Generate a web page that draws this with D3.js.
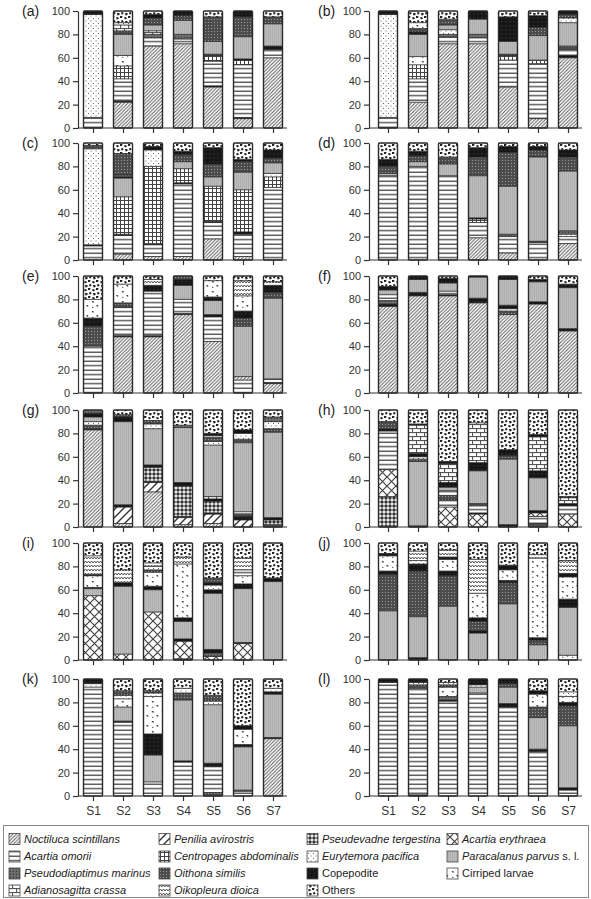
<!DOCTYPE html>
<html>
<head>
<meta charset="utf-8">
<script src="https://cdn.jsdelivr.net/npm/d3@7"></script>
<style>
  body { margin: 0; background: #fff; }
  svg { display: block; font-family: "Liberation Sans", Arial, sans-serif; }
</style>
</head>
<body>
<svg id="chart" width="591" height="899"></svg>
<script>
const stations = ['S1', 'S2', 'S3', 'S4', 'S5', 'S6', 'S7'];
const yTicks = [0, 20, 40, 60, 80, 100];
const panelLabels = ['(a)', '(b)', '(c)', '(d)', '(e)', '(f)', '(g)', '(h)', '(i)', '(j)', '(k)', '(l)'];

// species index: 0 Noctiluca, 1 A. omorii, 2 Pseudodiaptimus, 3 Adianosagitta, 4 Penilia,
// 5 Centropages, 6 Oithona, 7 Oikopleura, 8 Pseudevadne, 9 Eurytemora, 10 Copepodite,
// 11 Others, 12 A. erythraea, 13 Paracalanus, 14 Cirriped larvae
const species = [
  'Noctiluca scintillans', 'Acartia omorii', 'Pseudodiaptimus marinus', 'Adianosagitta crassa',
  'Penilia avirostris', 'Centropages abdominalis', 'Oithona similis', 'Oikopleura dioica',
  'Pseudevadne tergestina', 'Eurytemora pacifica', 'Copepodite', 'Others',
  'Acartia erythraea', 'Paracalanus parvus', 'Cirriped larvae'
];
const italicNames = [true, true, true, true, true, true, true, true, true, true, false, false, true, true, false];
// legend order (column by column)
const legendOrder = [
  [0, 1, 2, 3],
  [4, 5, 6, 7],
  [8, 9, 10, 11],
  [12, 13, 14]
];

// each station: [species, percent] from bottom to top
const panelA = [
  [[1, 9], [9, 88], [10, 3]],
  [[0, 22], [10, 1], [1, 19], [5, 11], [14, 9], [13, 18], [6, 3], [3, 5], [9, 2], [11, 10]],
  [[0, 70], [1, 7], [2, 3], [3, 3], [13, 5], [6, 6], [10, 3], [11, 3]],
  [[0, 72], [1, 4], [2, 4], [13, 12], [6, 4], [10, 4]],
  [[0, 35], [10, 1], [1, 21], [5, 5], [10, 1], [13, 11], [6, 21], [11, 5]],
  [[0, 8], [10, 1], [1, 45], [5, 4], [10, 1], [13, 19], [6, 17], [10, 5]],
  [[0, 60], [1, 7], [10, 3], [13, 19], [6, 6], [11, 5]]
];
const panelB = [
  [[1, 9], [9, 88], [10, 3]],
  [[0, 22], [1, 20], [5, 12], [14, 7], [13, 19], [10, 2], [6, 3], [14, 5], [11, 10]],
  [[0, 72], [1, 6], [2, 2], [9, 4], [13, 4], [6, 5], [11, 7]],
  [[0, 72], [1, 5], [2, 3], [13, 13], [10, 7]],
  [[0, 35], [1, 23], [5, 4], [10, 1], [13, 11], [10, 21], [11, 5]],
  [[0, 8], [1, 47], [5, 3], [13, 21], [6, 7], [10, 10], [11, 4]],
  [[0, 60], [10, 2], [1, 5], [6, 3], [13, 20], [9, 4], [6, 3], [10, 3]]
];
const panelC = [
  [[1, 12], [10, 1], [9, 82], [6, 3], [11, 2]],
  [[0, 5], [1, 16], [10, 1], [5, 32], [13, 16], [10, 1], [2, 2], [6, 18], [11, 9]],
  [[0, 3], [1, 10], [10, 1], [5, 66], [9, 14], [10, 3], [11, 3]],
  [[0, 3], [1, 62], [10, 1], [5, 12], [13, 6], [6, 6], [10, 3], [11, 7]],
  [[0, 18], [1, 14], [10, 1], [5, 30], [13, 8], [6, 11], [10, 14], [11, 4]],
  [[0, 3], [1, 19], [10, 2], [5, 36], [13, 15], [6, 9], [10, 2], [11, 14]],
  [[1, 62], [5, 9], [9, 3], [13, 9], [6, 4], [10, 7], [11, 6]]
];
const panelD = [
  [[1, 72], [13, 2], [6, 6], [10, 6], [11, 14]],
  [[1, 80], [13, 4], [6, 5], [10, 4], [11, 7]],
  [[1, 72], [13, 10], [6, 6], [11, 12]],
  [[0, 19], [1, 13], [5, 3], [10, 1], [13, 36], [6, 16], [10, 8], [11, 4]],
  [[0, 6], [1, 14], [2, 2], [13, 41], [6, 29], [10, 5], [11, 3]],
  [[1, 15], [10, 1], [13, 72], [6, 6], [10, 3], [11, 3]],
  [[0, 14], [1, 6], [9, 2], [2, 3], [13, 51], [6, 12], [10, 6], [11, 6]]
];
const panelE = [
  [[1, 40], [6, 17], [10, 7], [14, 16], [11, 20]],
  [[0, 48], [10, 1], [1, 24], [6, 4], [14, 16], [11, 7]],
  [[0, 48], [10, 1], [1, 38], [10, 5], [7, 5], [11, 3]],
  [[0, 67], [10, 1], [1, 12], [13, 12], [10, 5], [6, 3]],
  [[0, 44], [1, 21], [10, 2], [13, 12], [10, 3], [14, 14], [11, 4]],
  [[1, 11], [0, 3], [13, 43], [6, 7], [10, 6], [14, 13], [7, 13], [11, 4]],
  [[0, 8], [10, 1], [1, 3], [13, 69], [6, 5], [10, 6], [7, 3], [11, 5]]
];
const panelF = [
  [[0, 74], [10, 2], [2, 3], [1, 5], [13, 4], [10, 3], [11, 9]],
  [[0, 83], [10, 3], [13, 11], [10, 3]],
  [[0, 83], [10, 1], [1, 3], [13, 7], [10, 4], [11, 2]],
  [[0, 77], [10, 4], [13, 18], [10, 1]],
  [[0, 67], [6, 3], [9, 2], [10, 3], [13, 22], [10, 3]],
  [[0, 76], [10, 2], [13, 17], [10, 2], [11, 3]],
  [[0, 53], [10, 2], [13, 35], [10, 3], [11, 7]]
];
const panelG = [
  [[0, 83], [10, 1], [6, 3], [9, 3], [13, 4], [10, 3], [2, 3]],
  [[0, 3], [4, 14], [10, 2], [13, 71], [10, 4], [6, 2], [11, 4]],
  [[0, 30], [4, 8], [10, 1], [8, 12], [10, 2], [13, 31], [9, 4], [6, 3], [11, 9]],
  [[0, 2], [4, 6], [10, 1], [8, 26], [10, 3], [13, 47], [2, 2], [11, 13]],
  [[0, 3], [4, 8], [10, 1], [8, 10], [10, 2], [3, 2], [13, 44], [9, 3], [6, 3], [1, 2], [10, 2], [11, 20]],
  [[4, 6], [10, 3], [6, 2], [1, 2], [13, 59], [6, 3], [9, 5], [10, 3], [11, 17]],
  [[6, 2], [8, 4], [10, 2], [13, 73], [6, 3], [9, 6], [2, 4], [11, 6]]
];
const panelH = [
  [[8, 26], [12, 23], [1, 33], [10, 2], [6, 6], [11, 10]],
  [[10, 1], [13, 55], [2, 2], [9, 2], [10, 3], [3, 24], [10, 1], [11, 12]],
  [[12, 17], [1, 6], [6, 4], [1, 4], [13, 3], [10, 4], [3, 16], [10, 2], [11, 44]],
  [[12, 11], [10, 1], [1, 6], [6, 2], [13, 28], [10, 7], [3, 34], [11, 11]],
  [[10, 2], [13, 56], [6, 3], [10, 5], [11, 34]],
  [[6, 3], [1, 6], [12, 3], [10, 2], [13, 28], [10, 6], [3, 29], [10, 2], [11, 21]],
  [[12, 11], [1, 7], [10, 2], [3, 5], [10, 1], [11, 74]]
];
const panelI = [
  [[12, 55], [13, 6], [10, 1], [14, 10], [10, 1], [7, 16], [11, 11]],
  [[12, 5], [13, 58], [10, 3], [7, 11], [11, 23]],
  [[12, 41], [13, 19], [10, 3], [14, 12], [6, 2], [9, 3], [7, 3], [11, 17]],
  [[10, 1], [12, 15], [10, 2], [13, 15], [10, 3], [14, 46], [7, 6], [11, 12]],
  [[12, 3], [2, 3], [10, 3], [13, 48], [10, 3], [9, 4], [10, 2], [6, 4], [11, 30]],
  [[12, 14], [10, 1], [13, 46], [10, 4], [14, 7], [1, 5], [7, 10], [11, 13]],
  [[13, 67], [10, 3], [11, 30]]
];
const panelJ = [
  [[13, 42], [6, 31], [10, 3], [14, 13], [10, 2], [11, 9]],
  [[10, 2], [13, 35], [6, 39], [10, 6], [9, 3], [7, 8], [11, 7]],
  [[13, 46], [6, 26], [10, 4], [14, 10], [10, 2], [7, 6], [11, 6]],
  [[13, 23], [10, 2], [6, 8], [10, 3], [14, 21], [7, 29], [11, 14]],
  [[13, 48], [6, 18], [10, 2], [14, 9], [10, 4], [11, 19]],
  [[13, 13], [6, 4], [10, 2], [14, 68], [7, 3], [11, 10]],
  [[14, 4], [13, 41], [10, 7], [14, 19], [10, 3], [7, 11], [11, 15]]
];
const panelK = [
  [[1, 93], [9, 3], [10, 4]],
  [[1, 63], [10, 1], [13, 12], [14, 7], [9, 3], [6, 4], [11, 10]],
  [[1, 12], [13, 23], [10, 18], [14, 32], [9, 3], [6, 2], [11, 10]],
  [[1, 29], [10, 1], [13, 52], [6, 6], [9, 4], [11, 8]],
  [[6, 3], [1, 22], [10, 3], [13, 50], [9, 3], [6, 5], [11, 14]],
  [[1, 4], [2, 1], [13, 37], [10, 2], [14, 13], [10, 3], [11, 40]],
  [[0, 49], [10, 1], [13, 37], [10, 2], [9, 3], [11, 8]]
];
const panelL = [
  [[1, 97], [10, 3]],
  [[10, 1], [1, 91], [6, 3], [9, 2], [10, 3]],
  [[1, 81], [10, 1], [2, 3], [14, 8], [6, 2], [9, 2], [11, 3]],
  [[1, 88], [13, 5], [9, 2], [10, 5]],
  [[1, 76], [10, 3], [13, 14], [6, 3], [10, 4]],
  [[1, 38], [10, 2], [13, 27], [6, 9], [14, 11], [10, 3], [11, 10]],
  [[1, 5], [10, 2], [13, 53], [6, 17], [10, 3], [14, 5], [9, 4], [11, 11]]
];
const panels = [panelA, panelB, panelC, panelD, panelE, panelF, panelG, panelH, panelI, panelJ, panelK, panelL];

const svg = d3.select('#chart');
const defs = svg.append('defs');

// fill patterns, one per species
const pat = (i, w, h, bg, draw) => {
  const p = defs.append('pattern')
    .attr('id', 'p' + i)
    .attr('patternUnits', 'userSpaceOnUse')
    .attr('width', w)
    .attr('height', h);
  p.append('rect').attr('width', w).attr('height', h).attr('fill', bg);
  draw(p);
};
const line = (p, d, c, sw) => p.append('path').attr('d', d).attr('stroke', c).attr('stroke-width', sw).attr('fill', 'none');
const blob = (p, d, c) => p.append('path').attr('d', d).attr('fill', c);

pat(0, 3.5, 3.5, '#fff', p => line(p, 'M0,3.5L3.5,0M-1,1L1,-1M2.5,4.5L4.5,2.5', '#555', 0.9));
pat(1, 4, 4.5, '#fff', p => line(p, 'M0,1.2H4', '#444', 1.3));
pat(2, 3, 3, '#6e6e6e', p => blob(p, 'M0.8,0.8h1.2v1.2h-1.2z', '#3a3a3a'));
pat(3, 8, 8, '#fff', p => line(p, 'M0,0.6H8M0,4.6H8M0.6,0.6V4.6M4.6,4.6V8.6', '#444', 1));
pat(4, 8, 8, '#fff', p => line(p, 'M0,8L8,0M-2,2L2,-2M6,10L10,6', '#333', 1.4));
pat(5, 4, 4, '#fff', p => line(p, 'M0,0.5H4M0.5,0V4', '#444', 1));
pat(6, 3, 3, '#4c4c4c', p => blob(p, 'M1,1h1v1h-1z', '#9a9a9a'));
pat(7, 6, 4, '#fff', p => line(p, 'M0,3L1.5,1L3,3L4.5,1L6,3', '#444', 0.9));
pat(8, 4, 4, '#e8e8e8', p => blob(p, 'M2,0L4,2L2,4L0,2Z', '#333'));
pat(9, 5, 5, '#fff', p => { blob(p, 'M0.6,0.6h0.9v0.9h-0.9z', '#555'); blob(p, 'M3.1,3.1h0.9v0.9h-0.9z', '#555'); });
pat(10, 4, 4, '#161616', p => blob(p, 'M1.5,1.5h0.8v0.8h-0.8z', '#6a6a6a'));
pat(11, 8, 8, '#fff', p => {
  blob(p, 'M0,0h2.5l-0.5,2h-2z', '#222');
  blob(p, 'M4,1.5l2,-0.5l1,1.5l-2,1z', '#222');
  blob(p, 'M1,4.5l2,-0.5l0.5,2l-2,0.5z', '#222');
  blob(p, 'M5,5h2.5v2l-2,0.5z', '#222');
});
pat(12, 9, 9, '#fff', p => line(p, 'M0,0L9,9M9,0L0,9', '#444', 1.2));
pat(13, 2, 2, '#bdbdbd', p => line(p, 'M0.5,0V2', '#a4a4a4', 0.6));
pat(14, 10, 10, '#fff', p => {
  blob(p, 'M1.5,1.5q1.5,-1 2.5,0.5q-1,1.5 -2.5,-0.5z', '#333');
  blob(p, 'M6,5.5q1.5,-1 2.5,0.5q-1,1.5 -2.5,-0.5z', '#333');
  blob(p, 'M2,7q1,-0.5 1.5,0.8q-1,0.8 -1.5,-0.8z', '#333');
});

// panel geometry
const rowTops = [11, 143, 276, 410, 543, 679];
const plotH = 117;
const cols = [
  { axisX: 78, first: 93, end: 287, labelX: 22 },
  { axisX: 369, first: 388, end: 582, labelX: 318 }
];
const barW = 19;

panels.forEach((bars, pi) => {
  const col = cols[pi % 2];
  const top = rowTops[Math.floor(pi / 2)];
  const g = svg.append('g');

  const y = d3.scaleLinear().domain([0, 100]).range([top + plotH, top]);
  const x = d3.scalePoint().domain(stations).range([col.first, col.first + 180]);

  // bars
  bars.forEach((segs, si) => {
    const cx = x(stations[si]);
    let cum = 0;
    const stack = segs.map(([sp, v]) => {
      const s = { sp, y0: cum, y1: cum + v };
      cum += v;
      return s;
    });
    const bar = g.append('g');
    bar.selectAll('rect.seg')
      .data(stack)
      .join('rect')
      .attr('class', 'seg')
      .attr('x', cx - barW / 2)
      .attr('width', barW)
      .attr('y', d => y(d.y1))
      .attr('height', d => y(d.y0) - y(d.y1))
      .attr('fill', d => `url(#p${d.sp})`);
    bar.selectAll('line.sep')
      .data(stack.slice(1))
      .join('line')
      .attr('class', 'sep')
      .attr('x1', cx - barW / 2)
      .attr('x2', cx + barW / 2)
      .attr('y1', d => y(d.y0))
      .attr('y2', d => y(d.y0))
      .attr('stroke', '#222')
      .attr('stroke-width', 0.8);
    bar.append('rect')
      .attr('x', cx - barW / 2)
      .attr('width', barW)
      .attr('y', y(100))
      .attr('height', y(0) - y(100))
      .attr('fill', 'none')
      .attr('stroke', '#2a2a2a')
      .attr('stroke-width', 1.4)
      .attr('rx', 1);
  });

  // y axis
  const ya = g.append('g')
    .attr('transform', `translate(${col.axisX},0)`)
    .call(d3.axisLeft(y).tickValues(yTicks).tickSize(5).tickPadding(3).tickSizeOuter(0));
  ya.select('.domain').attr('stroke', '#333').attr('stroke-width', 1.2);
  ya.selectAll('.tick line').attr('stroke', '#333').attr('stroke-width', 1.2);
  ya.selectAll('.tick text').attr('font-size', 11).attr('fill', '#333')
    .attr('font-family', '"Liberation Sans", Arial, sans-serif');

  // x axis
  const xa = g.append('g')
    .attr('transform', `translate(0,${y(0)})`)
    .call(d3.axisBottom(x).tickSize(5).tickPadding(5)
      .tickFormat(pi >= 10 ? d => d : () => ''));
  xa.select('.domain').remove();
  xa.append('line')
    .attr('x1', col.axisX).attr('x2', col.end)
    .attr('stroke', '#333').attr('stroke-width', 1.2);
  xa.selectAll('.tick line').attr('stroke', '#333').attr('stroke-width', 1.2);
  xa.selectAll('.tick text').attr('font-size', 12).attr('fill', '#333')
    .attr('font-family', '"Liberation Sans", Arial, sans-serif');

  // panel label
  g.append('text')
    .attr('x', col.labelX)
    .attr('y', y(100))
    .attr('dy', '0.35em')
    .attr('font-size', 14)
    .attr('fill', '#222')
    .text(panelLabels[pi]);
});

// legend
const legend = svg.append('g');
legend.append('rect')
  .attr('x', 3.5).attr('y', 825.5).attr('width', 585).attr('height', 72)
  .attr('fill', '#fff').attr('stroke', '#888').attr('stroke-width', 1);
const legCols = [9, 159, 307, 447];
const legRows = [839, 856.5, 873.5, 890.5];
legendOrder.forEach((items, ci) => {
  items.forEach((sp, ri) => {
    const lx = legCols[ci], ly = legRows[ri];
    legend.append('rect')
      .attr('x', lx).attr('y', ly - 5.5).attr('width', 11).attr('height', 11)
      .attr('fill', `url(#p${sp})`).attr('stroke', '#444').attr('stroke-width', 0.8);
    const t = legend.append('text')
      .attr('x', lx + 15).attr('y', ly).attr('dy', '0.35em')
      .attr('font-size', 11).attr('fill', '#222');
    if (sp === 13) {
      t.append('tspan').attr('font-style', 'italic').text(species[sp]);
      t.append('tspan').text(' s. l.');
    } else {
      t.attr('font-style', italicNames[sp] ? 'italic' : 'normal').text(species[sp]);
    }
  });
});
</script>
</body>
</html>
